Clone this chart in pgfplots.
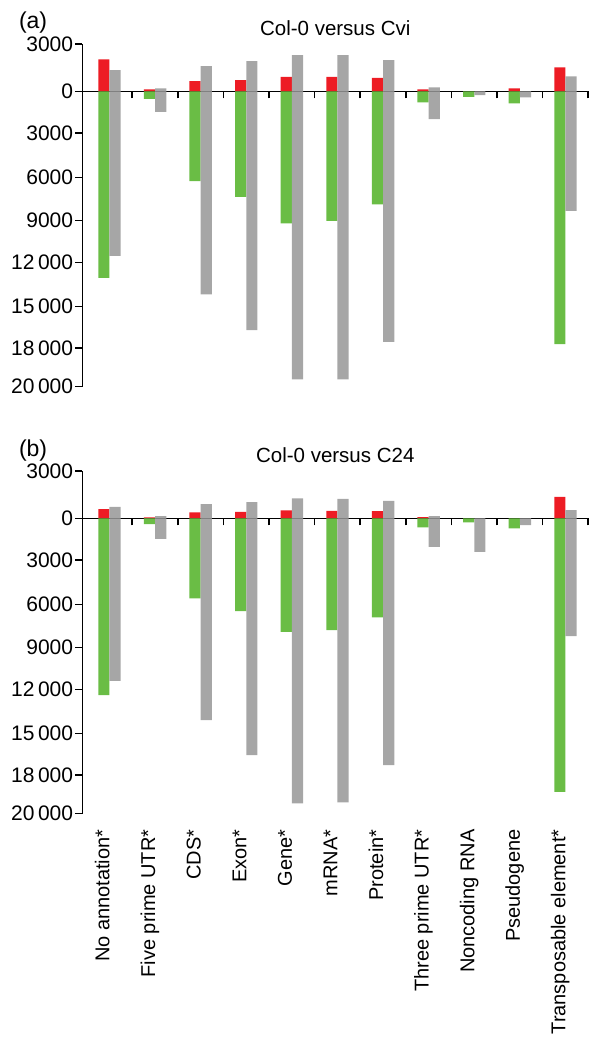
\documentclass[border=0pt]{standalone}
\usepackage{pgfplots}
\pgfplotsset{compat=1.18}
\usepackage{fontspec}
\setmainfont{Liberation Sans}
\definecolor{barred}{HTML}{ED1C24}
\definecolor{bargreen}{HTML}{6ABD45}
\definecolor{bargray}{HTML}{A6A6A6}
\pgfplotsset{
  panel/.style={
    x=45.6pt, y=0.0143333pt,
    xmin=-0.596, xmax=10.5, ymin=-20600, ymax=3300,
    enlargelimits=false, clip=false, scaled y ticks=false,
    axis x line*=middle, axis y line*=left,
    hide obscured x ticks=false, hide obscured y ticks=false,
    axis line style={line width=1.6pt, black},
    xtick={0.5,1.5,...,10.5}, xticklabels={},
    ytick={-20600,-17900,-15000,-11950,-9000,-6000,-2900,0,3300},
    yticklabels={20\,000,18\,000,15\,000,12\,000,9000,6000,3000,0,3000},
    tick align=outside, major tick length=7pt,
    tick style={line width=1.6pt, black},
    yticklabel style={font=\fontsize{21}{25}\selectfont, inner sep=2pt},
    every axis title/.style={at={(0.5,1)}, anchor=base, yshift=9pt, font=\fontsize{20.5}{24}\selectfont},
  },
  rbar/.style={ybar, bar width=11.2pt, bar shift=-5.6pt, fill=barred, draw=none},
  gbar/.style={ybar, bar width=11.2pt, bar shift=-5.6pt, fill=bargreen, draw=none},
  kbar/.style={ybar, bar width=11.2pt, bar shift=5.6pt, fill=bargray, draw=none},
}
\tikzset{catlab/.style={rotate=90, anchor=base east, font=\fontsize{20}{24}\selectfont}}
\begin{document}
\begin{tikzpicture}
\useasboundingbox (0,0) rectangle (596pt,-1037pt);
% ---------------- panel (a)
\begin{axis}[panel, at={(82.3pt,-386.6pt)}, anchor=south west, title={Col-0 versus Cvi}]
\addplot[rbar] coordinates {(0,2233) (1,140) (2,719) (3,788) (4,1019) (5,1019) (6,949) (7,140) (9,209) (10,1674)};
\addplot[gbar] coordinates {(0,-13005) (1,-516) (2,-6258) (3,-7354) (4,-9210) (5,-9028) (6,-7884) (7,-767) (8,-377) (9,-837) (10,-17631)};
\addplot[kbar] coordinates {(0,1486) (1,209) (2,1765) (3,2114) (4,2533) (5,2533) (6,2184) (7,279) (10,1047)};
\addplot[kbar] coordinates {(0,-11470) (1,-1423) (2,-14163) (3,-16654) (4,-20094) (5,-20094) (6,-17470) (7,-1933) (8,-258) (9,-419) (10,-8330)};
\end{axis}
\node[anchor=base west, font=\fontsize{23}{27}\selectfont] at (15.5pt,-28.3pt) {(a)};
% ---------------- panel (b)
\begin{axis}[panel, at={(82.3pt,-813.6pt)}, anchor=south west, title={Col-0 versus C24}]
\addplot[rbar] coordinates {(0,649) (1,70) (2,419) (3,460) (4,558) (5,530) (6,509) (7,90) (10,1507)};
\addplot[gbar] coordinates {(0,-12328) (1,-398) (2,-5582) (3,-6468) (4,-7912) (5,-7793) (6,-6907) (7,-628) (8,-279) (9,-698) (10,-19075)};
\addplot[kbar] coordinates {(0,809) (1,160) (2,998) (3,1137) (4,1395) (5,1367) (6,1228) (7,160) (10,579)};
\addplot[kbar] coordinates {(0,-11331) (1,-1423) (2,-14072) (3,-16514) (4,-19884) (5,-19815) (6,-17212) (7,-1981) (8,-2330) (9,-467) (10,-8212)};
\node[catlab] at (axis cs:0,-21465) {No annotation*};
\node[catlab] at (axis cs:1,-21465) {Five prime UTR*};
\node[catlab] at (axis cs:2,-21465) {CDS*};
\node[catlab] at (axis cs:3,-21465) {Exon*};
\node[catlab] at (axis cs:4,-21465) {Gene*};
\node[catlab] at (axis cs:5,-21465) {mRNA*};
\node[catlab] at (axis cs:6,-21465) {Protein*};
\node[catlab] at (axis cs:7,-21465) {Three prime UTR*};
\node[catlab] at (axis cs:8,-21465) {Noncoding RNA};
\node[catlab] at (axis cs:9,-21465) {Pseudogene};
\node[catlab] at (axis cs:10,-21465) {Transposable element*};
\end{axis}
\node[anchor=base west, font=\fontsize{23}{27}\selectfont] at (15.5pt,-456pt) {(b)};
\end{tikzpicture}
\end{document}
